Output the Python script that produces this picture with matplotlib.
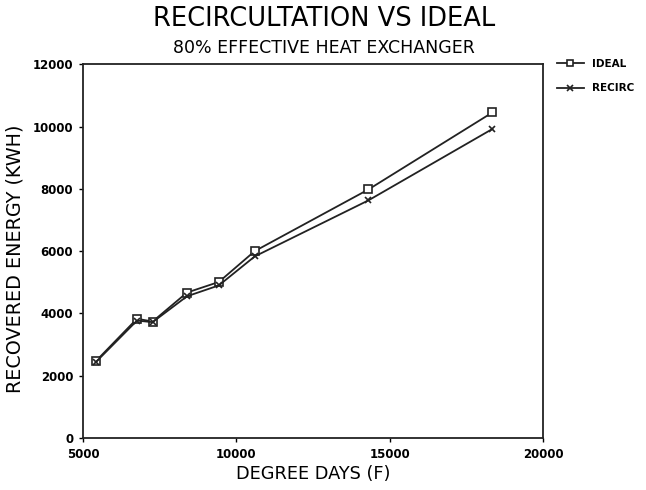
import numpy as np
import matplotlib.pyplot as plt

# degree days and recovered energy (kWh)
degree_days = [5420, 6760, 7270, 8390, 9430, 10600, 14310, 18350]
ideal = [2470, 3830, 3740, 4670, 5010, 6000, 7980, 10450]
recirc = [2440, 3770, 3720, 4550, 4900, 5830, 7630, 9920]

fig = plt.figure(figsize=(6.46, 4.9), dpi=100)
ax = fig.add_axes([0.1285, 0.106, 0.712, 0.763])

ax.plot(degree_days, ideal, color='#222222', lw=1.3, marker='s', ms=5.5,
        mfc='white', mec='#222222', mew=1.2, label='IDEAL')
ax.plot(degree_days, recirc, color='#222222', lw=1.3, marker='x', ms=5,
        mew=1.2, label='RECIRC')

ax.set_xlim(5000, 20000)
ax.set_ylim(0, 12000)
ax.set_xticks([5000, 10000, 15000, 20000])
ax.set_yticks(np.arange(0, 12001, 2000))
ax.tick_params(direction='out', length=3, width=1, labelsize=8.5, pad=4)
for lab in ax.get_xticklabels() + ax.get_yticklabels():
    lab.set_fontweight('bold')
for sp in ax.spines.values():
    sp.set_linewidth(1.3)
    sp.set_color('#222222')

ax.set_xlabel('DEGREE DAYS (F)', fontsize=12.8, labelpad=3)
ax.set_ylabel('RECOVERED ENERGY (KWH)', fontsize=13.8)
ax.yaxis.set_label_coords(-0.128, 0.48)

fig.text(0.502, 0.962, 'RECIRCULTATION VS IDEAL', ha='center', va='center',
         fontsize=18.5)
fig.text(0.502, 0.903, '80% EFFECTIVE HEAT EXCHANGER', ha='center',
         va='center', fontsize=12.5)

ax.legend(loc='upper left', bbox_to_anchor=(1.01, 1.04), frameon=False,
          handlelength=2.6, handletextpad=0.8,
          prop={'size': 7.5, 'weight': 'bold'},
          labelspacing=1.4, markerscale=0.8)

fig.savefig('out.png', dpi=100)
